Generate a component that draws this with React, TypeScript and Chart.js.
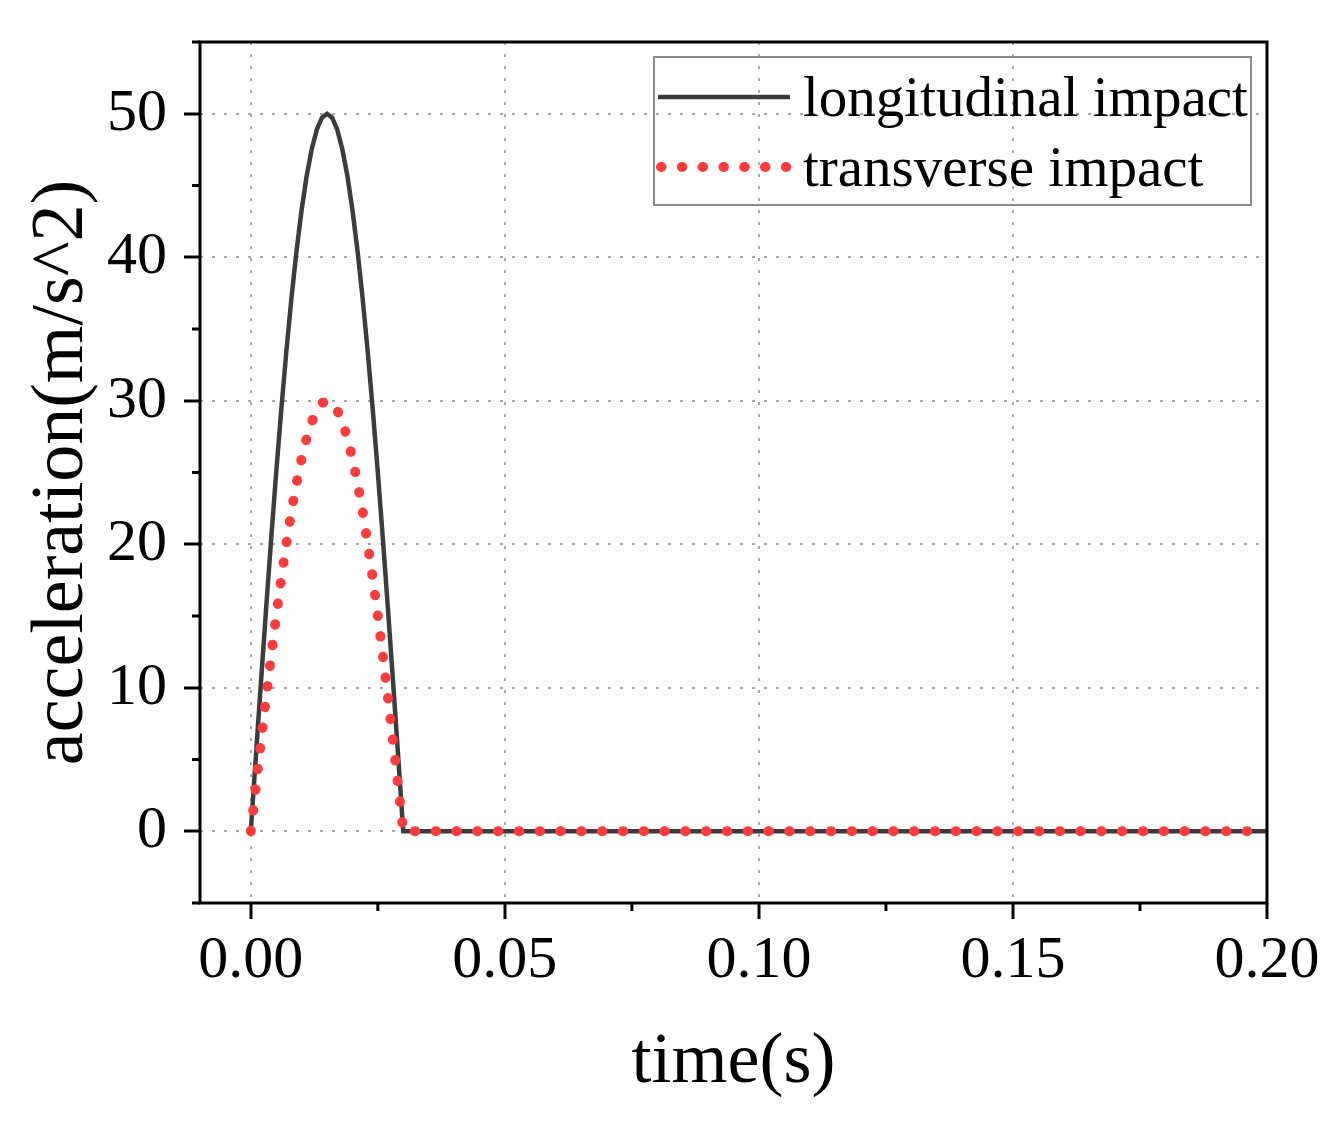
import React, { useEffect, useRef } from "react";
import { Chart, registerables } from "chart.js";

Chart.register(...registerables);

// ---- data ----
const timeValues = [
  0, 0.001, 0.002, 0.003, 0.004, 0.005, 0.006, 0.007, 0.008, 0.009, 0.01,
  0.011, 0.012, 0.013, 0.014, 0.015, 0.016, 0.017, 0.018, 0.019, 0.02,
  0.021, 0.022, 0.023, 0.024, 0.025, 0.026, 0.027, 0.028, 0.029, 0.03, 0.2,
];
const longitudinalValues = [
  0, 5.23, 10.4, 15.45, 20.34, 25.0, 29.39, 33.46, 37.16, 40.45, 43.3,
  45.68, 47.55, 48.91, 49.73, 50.0, 49.73, 48.91, 47.55, 45.68, 43.3,
  40.45, 37.16, 33.46, 29.39, 25.0, 20.34, 15.45, 10.4, 5.23, 0, 0,
];
const transverseValues = [
  0, 3.14, 6.24, 9.27, 12.2, 15.0, 17.63, 20.07, 22.29, 24.27, 25.98,
  27.41, 28.53, 29.34, 29.84, 30.0, 29.84, 29.34, 28.53, 27.41, 25.98,
  24.27, 22.29, 20.07, 17.63, 15.0, 12.2, 9.27, 6.24, 3.14, 0, 0,
];
const seriesLabels = ["longitudinal impact", "transverse impact"];
const xMajorTicks = [0, 0.05, 0.1, 0.15, 0.2];
const yMajorTicks = [0, 10, 20, 30, 40, 50];
const xMinorTicks = [0.025, 0.075, 0.125, 0.175];
const yMinorTicks = [-5, 5, 15, 25, 35, 45, 55];
const xTitle = "time(s)";
const yTitle = "acceleration(m/s^2)";

const FONT = "'Liberation Serif', 'Times New Roman', serif";

const frameAndMinorTicks = {
  id: "frameAndMinorTicks",
  afterDraw(chart: any) {
    const { ctx, chartArea } = chart;
    const xs = chart.scales.x;
    const ys = chart.scales.y;
    ctx.save();
    ctx.strokeStyle = "#000";
    ctx.lineWidth = 3;
    ctx.setLineDash([]);
    ctx.lineCap = "butt";
    ctx.beginPath();
    xMinorTicks.forEach((v) => {
      const px = xs.getPixelForValue(v);
      ctx.moveTo(px, chartArea.bottom);
      ctx.lineTo(px, chartArea.bottom + 8);
    });
    yMinorTicks.forEach((v) => {
      const py = ys.getPixelForValue(v);
      ctx.moveTo(chartArea.left - 8, py);
      ctx.lineTo(chartArea.left, py);
    });
    ctx.stroke();
    ctx.strokeRect(
      chartArea.left,
      chartArea.top,
      chartArea.right - chartArea.left,
      chartArea.bottom - chartArea.top
    );
    ctx.restore();
  },
};

const boxLegend = {
  id: "boxLegend",
  afterDraw(chart: any) {
    const { ctx, chartArea } = chart;
    const w = 597;
    const h = 148;
    const right = chartArea.right - 16;
    const top = chartArea.top + 15;
    const left = right - w;
    ctx.save();
    ctx.lineWidth = 2;
    ctx.strokeStyle = "#8c8c8c";
    ctx.setLineDash([]);
    ctx.strokeRect(left, top, w, h);
    chart.data.datasets.forEach((ds: any, i: number) => {
      const y = top + 40 + i * 70;
      ctx.beginPath();
      ctx.lineWidth = ds.borderWidth;
      ctx.strokeStyle = ds.borderColor;
      ctx.setLineDash(ds.borderDash || []);
      ctx.lineCap = ds.borderCapStyle || "butt";
      ctx.moveTo(left + (ds.borderDash ? 7 : 4), y);
      ctx.lineTo(left + 136, y);
      ctx.stroke();
      ctx.setLineDash([]);
      ctx.fillStyle = "#000";
      ctx.font = `57px ${FONT}`;
      ctx.textBaseline = "alphabetic";
      ctx.textAlign = "left";
      ctx.fillText(ds.label, left + 149, y + 19);
    });
    ctx.restore();
  },
};

export default function App() {
  const canvasRef = useRef<HTMLCanvasElement | null>(null);

  useEffect(() => {
    const canvas = canvasRef.current;
    if (!canvas) return;
    const longData = timeValues.map((t, i) => ({ x: t, y: longitudinalValues[i] }));
    const transData = timeValues.map((t, i) => ({ x: t, y: transverseValues[i] }));

    const gridOpts: any = {
      color: "#a8a8a8",
      lineWidth: 2,
      tickLength: 16,
      tickWidth: 3,
      tickColor: "#000",
      drawTicks: true,
      borderDash: [3, 9],
    };

    const chart = new Chart(canvas, {
      type: "line",
      data: {
        datasets: [
          {
            label: seriesLabels[0],
            data: longData,
            borderColor: "#3c3c3c",
            borderWidth: 4.5,
            pointRadius: 0,
            tension: 0,
            order: 2,
          },
          {
            label: seriesLabels[1],
            data: transData,
            borderColor: "#ff3c3c",
            borderWidth: 10,
            borderDash: [0.5, 20.3],
            borderCapStyle: "round",
            pointRadius: 0,
            tension: 0,
            order: 1,
          } as any,
        ],
      },
      options: {
        responsive: false,
        animation: false,
        devicePixelRatio: 1,
        layout: { padding: { top: 42, right: 75, left: 0, bottom: 0 } },
        plugins: {
          legend: { display: false },
          tooltip: { enabled: false },
          title: { display: false },
        },
        scales: {
          x: {
            type: "linear",
            min: -0.01,
            max: 0.2,
            afterFit: (s: any) => {
              s.height = 232;
              s.paddingLeft = 0;
              s.paddingRight = 0;
            },
            afterBuildTicks: (s: any) => {
              s.ticks = xMajorTicks.map((v) => ({ value: v }));
            },
            ticks: {
              padding: 6,
              color: "#000",
              font: { family: FONT, size: 60 },
              maxRotation: 0,
              autoSkip: false,
              callback: (v: any) => Number(v).toFixed(2),
            },
            grid: gridOpts,
            border: { display: false, dash: [3, 9] },
            title: {
              display: true,
              text: xTitle,
              color: "#000",
              font: { family: FONT, size: 72 },
              padding: { top: 0, bottom: 29 },
            },
          },
          y: {
            type: "linear",
            min: -5,
            max: 55,
            afterFit: (s: any) => {
              s.width = 200;
              s.paddingTop = 0;
              s.paddingBottom = 0;
            },
            afterBuildTicks: (s: any) => {
              s.ticks = yMajorTicks.map((v) => ({ value: v }));
            },
            ticks: {
              padding: 17,
              color: "#000",
              autoSkip: false,
              font: { family: FONT, size: 60 },
              callback: (v: any) => String(Math.round(Number(v))),
            },
            grid: gridOpts,
            border: { display: false, dash: [3, 9] },
            title: {
              display: true,
              text: yTitle,
              color: "#000",
              font: { family: FONT, size: 74 },
              padding: { top: 18, bottom: 0 },
            },
          },
        },
      },
      plugins: [frameAndMinorTicks, boxLegend],
    });
    return () => chart.destroy();
  }, []);

  return (
    <div style={{ position: "absolute", left: 0, top: 0, width: 1342, height: 1135, background: "#fff" }}>
      <canvas ref={canvasRef} width={1342} height={1135} style={{ width: 1342, height: 1135, display: "block" }} />
    </div>
  );
}
